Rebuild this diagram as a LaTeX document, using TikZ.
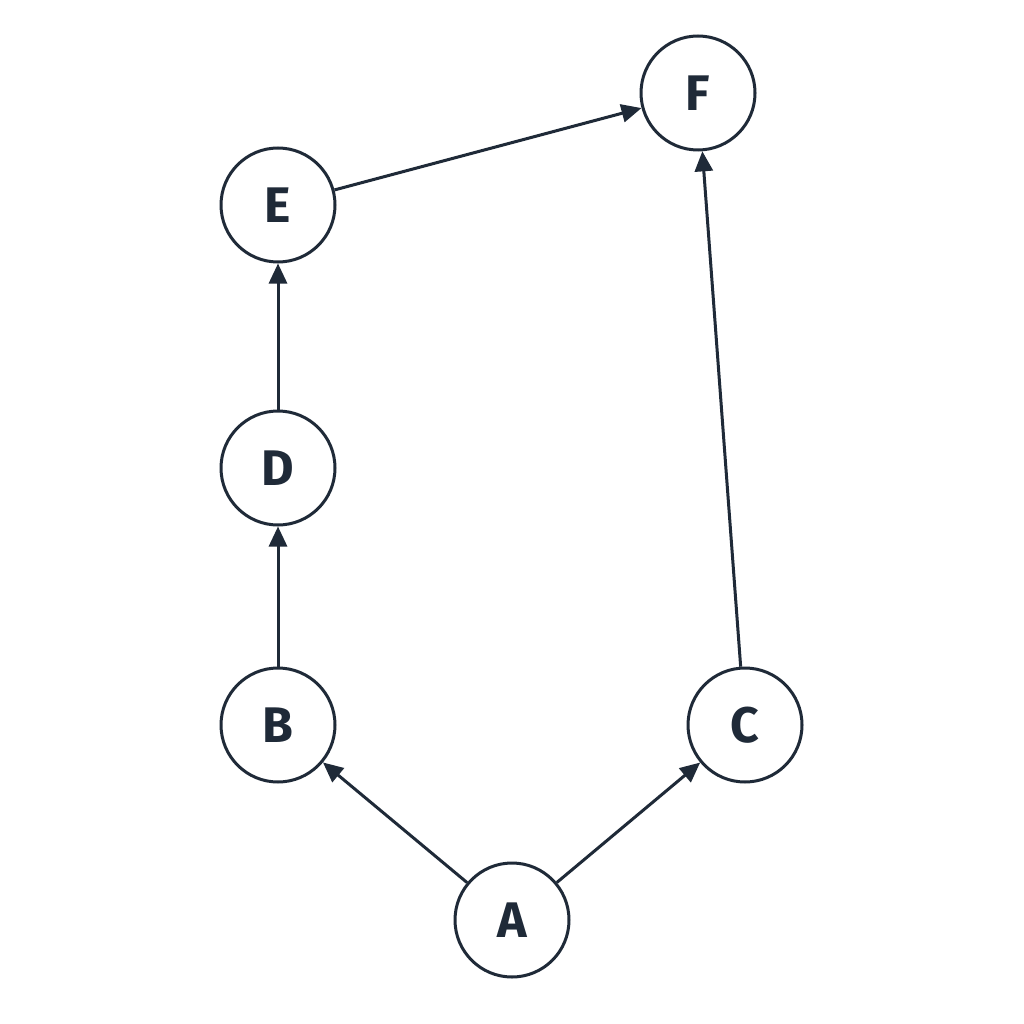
\documentclass[tikz,border=0pt]{standalone}
\usepackage{fontspec}
\setmainfont{Fira Sans}
\usetikzlibrary{arrows.meta}
\definecolor{ink}{HTML}{1F2A38}
\begin{document}
\begin{tikzpicture}[x=1pt,y=-1pt,
  n/.style={circle,draw=ink,line width=3pt,minimum size=114pt,inner sep=0pt,text=ink,font=\fontsize{50}{50}\selectfont\bfseries},
  e/.style={draw=ink,line width=3pt,-{Triangle[length=20pt,width=18pt]}}]
\useasboundingbox (0,0) rectangle (1024,1024);
\fill[white] (0,0) rectangle (1024,1024);
\node[n] (A) at (512,920) {A};
\node[n] (B) at (278,725) {B};
\node[n] (C) at (745,725) {C};
\node[n] (D) at (278,468) {D};
\node[n] (E) at (278,205) {E};
\node[n] (F) at (698,93) {F};
\draw[e] (A) -- (B);
\draw[e] (A) -- (C);
\draw[e] (B) -- (D);
\draw[e] (D) -- (E);
\draw[e] (E) -- (F);
\draw[e] (C) -- (F);
\end{tikzpicture}
\end{document}
